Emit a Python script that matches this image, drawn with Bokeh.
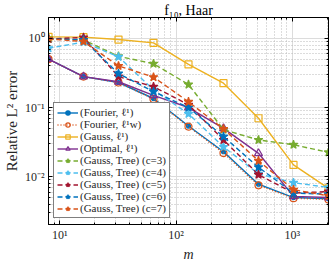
import math
from bokeh.plotting import figure
from bokeh.models import (Range1d, FixedTicker, LogAxis, Legend, LegendItem,
                          CustomJSTickFormatter)
from bokeh.embed import file_html
from bokeh.resources import INLINE

# ---------------- data ----------------
m = [8, 16, 32, 64, 128, 256, 512, 1024, 2048]

fourier_l1  = [0.50, 0.28, 0.230, 0.135, 0.054, 0.023, 0.0078, 0.0050, 0.0048]
fourier_l1w = [0.50, 0.28, 0.230, 0.133, 0.053, 0.022, 0.0075, 0.0049, 0.0047]
gauss_l1    = [1.05, 1.04, 0.96, 0.86, 0.42, 0.225, 0.070, 0.0148, 0.0068]
optimal_l1  = [0.50, 0.28, 0.236, 0.150, 0.100, 0.050, 0.0218, 0.0052, 0.0050]
tree_c3     = [1.00, 0.95, 0.55, 0.43, 0.215, 0.048, 0.034, 0.029, 0.0225]
tree_c4     = [0.72, 0.88, 0.54, 0.18, 0.081, 0.027, 0.011, 0.0082, 0.0070]
tree_c5     = [0.98, 1.03, 0.28, 0.20, 0.110, 0.034, 0.0107, 0.0058, 0.0061]
tree_c6     = [0.98, 0.95, 0.31, 0.17, 0.100, 0.038, 0.0137, 0.0058, 0.0056]
tree_c7     = [0.98, 0.90, 0.40, 0.275, 0.121, 0.049, 0.017, 0.0065, 0.0053]

labels = ["(Fourier, ℓ¹)", "(Fourier, ℓ¹w)", "(Gauss, ℓ¹)", "(Optimal, ℓ¹)",
          "(Gauss, Tree) (c=3)", "(Gauss, Tree) (c=4)", "(Gauss, Tree) (c=5)",
          "(Gauss, Tree) (c=6)", "(Gauss, Tree) (c=7)"]
series = [fourier_l1, fourier_l1w, gauss_l1, optimal_l1,
          tree_c3, tree_c4, tree_c5, tree_c6, tree_c7]

x_major = [10, 100, 1000]
y_major = [0.01, 0.1, 1]

title_text = "f₁₀, Haar"
x_label = "m"
y_label = "Relative L² error"

# ---------------- styles ----------------
colors = ["#0072BD", "#D95319", "#EDB120", "#7E2F8E",
          "#77AC30", "#4DBEEE", "#A2142F", "#0072BD", "#D95319"]
dashes = ["solid", "1 2", "solid", "solid"] + ["5 3"] * 5
markers = ["circle", "circle", "square", "triangle"] + ["star"] * 5
msizes = [4, 7, 7, 8] + [9] * 5
filled = [True, False, False, False] + [True] * 5

FONT = "Liberation Serif"

p = figure(width=332, height=264, x_axis_type="log", y_axis_type="log",
           x_range=Range1d(8, 2048), y_range=Range1d(0.00204, 2.0),
           output_backend="svg", toolbar_location=None,
           min_border_left=48, min_border_right=4, min_border_top=17,
           min_border_bottom=33)
p.title.text = title_text
p.title.align = "center"
p.title.text_font = FONT
p.title.text_font_size = "14px"
p.title.text_font_style = "normal"
p.title.text_color = "black"
p.title.standoff = 0
p.title.offset = 0

p.outline_line_color = "black"
p.outline_line_width = 1
p.background_fill_color = "white"

x_minor = [k * 10 ** e for e in range(0, 4) for k in range(2, 10)]
y_minor = [k * 10.0 ** e for e in range(-3, 1) for k in range(2, 10)]
xt = FixedTicker(ticks=x_major, minor_ticks=x_minor)
yt = FixedTicker(ticks=y_major, minor_ticks=y_minor)

sup_code = """
const e = Math.round(Math.log10(tick));
const sup = {'-':'\u207b','0':'\u2070','1':'\u00b9','2':'\u00b2','3':'\u00b3','4':'\u2074','5':'\u2075','6':'\u2076','7':'\u2077','8':'\u2078','9':'\u2079'};
return '10' + String(e).split('').map(c => sup[c]).join('');
"""

for ax, tk in ((p.xaxis[0], xt), (p.yaxis[0], yt)):
    ax.ticker = tk
    ax.formatter = CustomJSTickFormatter(code=sup_code)
    ax.major_tick_in = 4
    ax.major_tick_out = 0
    ax.minor_tick_in = 2
    ax.minor_tick_out = 0
    ax.axis_line_color = "black"
    ax.major_tick_line_color = "black"
    ax.minor_tick_line_color = "black"
    ax.major_label_text_font = FONT
    ax.major_label_text_font_size = "12px"
    ax.major_label_text_color = "#262626"
    ax.axis_label_text_font = FONT
    ax.axis_label_text_color = "#262626"

p.xaxis.major_label_standoff = 3
p.yaxis.major_label_standoff = 4
p.xaxis.axis_label = x_label
p.xaxis.axis_label_text_font_style = "italic"
p.xaxis.axis_label_text_font_size = "14px"
p.xaxis.axis_label_standoff = 2
p.yaxis.axis_label = y_label
p.yaxis.axis_label_text_font_style = "normal"
p.yaxis.axis_label_text_font_size = "15px"
p.yaxis.axis_label_standoff = 2

for loc, tk in (("right", yt), ("above", xt)):
    ax = LogAxis(ticker=tk, formatter=CustomJSTickFormatter(code="return '';"),
                 major_tick_in=4, major_tick_out=0, minor_tick_in=2,
                 minor_tick_out=0, major_label_standoff=0,
                 major_label_text_font_size="0px",
                 axis_line_color="black")
    p.add_layout(ax, loc)

for g, tk in ((p.xgrid, xt), (p.ygrid, yt)):
    g.ticker = tk
    g.grid_line_color = "#dcdcdc"
    g.grid_line_width = 1
    g.minor_grid_line_color = "#b8b8b8"
    g.minor_grid_line_dash = "1 2"
    g.minor_grid_line_width = 1

items = []
for i, vals in enumerate(series):
    rl = p.line(m, vals, line_color=colors[i], line_width=1.4,
                line_dash=dashes[i])
    rs = p.scatter(m, vals, marker=markers[i], size=msizes[i],
                   line_color=colors[i], line_width=1.2,
                   fill_color=colors[i] if filled[i] else None)
    items.append(LegendItem(label=labels[i], renderers=[rl, rs]))

legend = Legend(items=items, location=(5, 6))
legend.label_text_font = FONT
legend.label_text_font_size = "11px"
legend.label_text_color = "#262626"
legend.glyph_width = 21
legend.glyph_height = 11
legend.label_height = 11
legend.label_standoff = 2
legend.spacing = 0
legend.padding = 3
legend.margin = 0
legend.border_line_color = "black"
legend.border_line_width = 1
legend.background_fill_alpha = 1
p.add_layout(legend)

open("out.html", "w").write(file_html(p, INLINE))
